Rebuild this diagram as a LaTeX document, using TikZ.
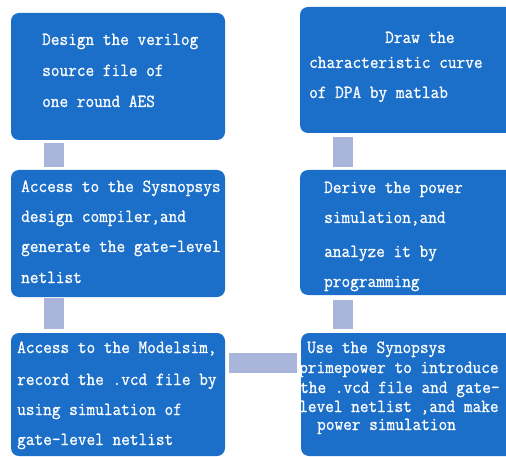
\documentclass[tikz,border=0pt]{standalone}
\usepackage{fontspec}
\newfontfamily\boxfont{Latin Modern Mono}[FakeStretch=0.91, FakeBold=0.8]
\definecolor{boxblue}{RGB}{28,111,200}
\definecolor{barblue}{RGB}{169,181,218}
\tikzset{
  stepbox/.style={draw=none, fill=boxblue, rounded corners=8bp, inner sep=0pt, outer sep=0pt, anchor=north west},
  bar/.style={draw=barblue, line width=20bp},
  txt/.style={text=white, inner sep=0pt, anchor=base west, font=\boxfont\fontsize{18.5bp}{20bp}\selectfont}
}
\begin{document}
\begin{tikzpicture}[x=1bp,y=-1bp]
\path[fill=white] (0,0) rectangle (506,457);
\clip (0,0) rectangle (506,457);
\useasboundingbox (0,0) rectangle (506,457);
% boxes
\node[stepbox, minimum width=214bp, minimum height=127bp] (b1) at (11,13) {};
\node[stepbox, minimum width=214bp, minimum height=127bp] (b2) at (11,170) {};
\node[stepbox, minimum width=214bp, minimum height=123bp] (b3) at (11,333) {};
\node[stepbox, minimum width=230bp, minimum height=126bp] (b6) at (300,7) {};
\node[stepbox, minimum width=230bp, minimum height=125bp] (b5) at (300,170) {};
\node[stepbox, minimum width=230bp, minimum height=123bp] (b4) at (301,333) {};
% connector positions
\coordinate (cl) at (53.5,0);
\coordinate (cr) at (343,0);
\coordinate (ch) at (0,363);
\draw[bar, shorten <=3bp, shorten >=3bp] (b1.south -| cl) -- (b2.north -| cl);
\draw[bar, shorten <=1bp, shorten >=4bp] (b2.south -| cl) -- (b3.north -| cl);
\draw[bar, shorten <=4bp, shorten >=4bp] (b3.east |- ch) -- (b4.west |- ch);
\draw[bar, shorten <=5bp, shorten >=4bp] (b5.south -| cr) -- (b4.north -| cr);
\draw[bar, shorten <=4bp, shorten >=3bp] (b6.south -| cr) -- (b5.north -| cr);
% texts
\foreach \x/\y/\t [count=\i] in {42/45/{Design the verilog}, 42/76/{source file of}, 42/107/{one round AES}}
  \node[txt] (t1\i) at (\x,\y) {\t};
\foreach \x/\y/\t [count=\i] in {21/192/{Access to the Sysnopsys}, 21/222/{design compiler,and}, 21/252/{generate the gate-level}, 21/283/{netlist}}
  \node[txt] (t2\i) at (\x,\y) {\t};
\foreach \x/\y/\t [count=\i] in {17/353/{Access to the Modelsim,}, 17/385/{record the .vcd file by}, 17/415/{using simulation of}, 17/445/{gate-level netlist}}
  \node[txt] (t3\i) at (\x,\y) {\t};
\foreach \x/\y/\t [count=\i] in {385/43/{Draw the}, 309/68/{characteristic curve}, 309/98/{of DPA by matlab}}
  \node[txt] (t6\i) at (\x,\y) {\t};
\foreach \x/\y/\t [count=\i] in {324/193/{Derive the power}, 324/223/{simulation,and}, 324/257/{analyze it by}, 324/287/{programming}}
  \node[txt] (t5\i) at (\x,\y) {\t};
\foreach \x/\y/\t [count=\i] in {307/353/{Use the Synopsys}, 299/373/{primepower to introduce}, 300/393/{the .vcd file and gate-}, 299/412/{level netlist ,and make}, 317/430/{power simulation}}
  \node[txt] (t4\i) at (\x,\y) {\t};
\end{tikzpicture}
\end{document}
